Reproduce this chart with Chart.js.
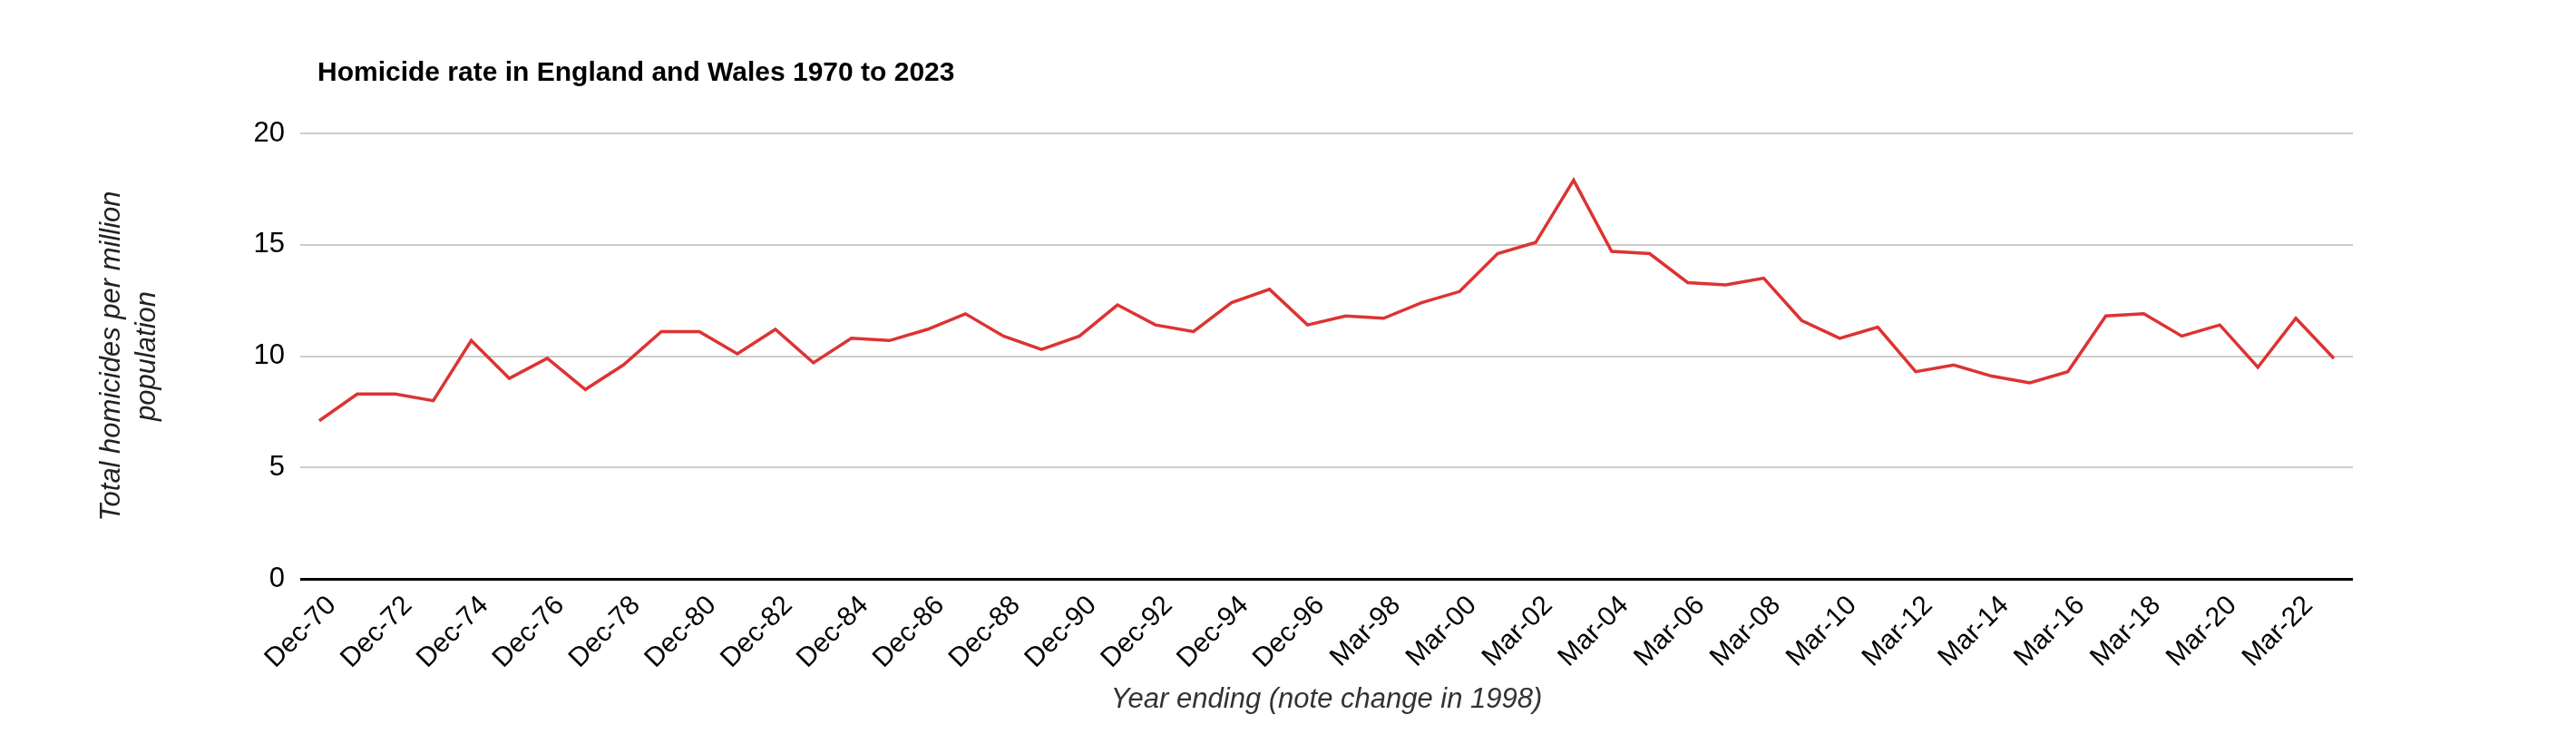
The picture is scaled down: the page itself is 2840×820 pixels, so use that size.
<!DOCTYPE html>
<html>
<head>
<meta charset="utf-8">
<title>Homicide rate in England and Wales 1970 to 2023</title>
<script src="https://cdn.jsdelivr.net/npm/chart.js@4.4.1/dist/chart.umd.min.js"></script>
<style>
  html, body { margin: 0; padding: 0; background: #fff; }
  #wrap { width: 2840px; height: 820px; position: relative; }
</style>
</head>
<body>
<div id="wrap"><canvas id="homicideChart"></canvas></div>
<script>
// Calendar years up to 1997, then financial years ending in March
const years = [
    'Dec-70', 'Dec-71', 'Dec-72', 'Dec-73', 'Dec-74', 'Dec-75', 'Dec-76', 'Dec-77', 'Dec-78', 'Dec-79',
    'Dec-80', 'Dec-81', 'Dec-82', 'Dec-83', 'Dec-84', 'Dec-85', 'Dec-86', 'Dec-87', 'Dec-88', 'Dec-89',
    'Dec-90', 'Dec-91', 'Dec-92', 'Dec-93', 'Dec-94', 'Dec-95', 'Dec-96', 'Dec-97',
    'Mar-98', 'Mar-99', 'Mar-00', 'Mar-01', 'Mar-02', 'Mar-03', 'Mar-04', 'Mar-05', 'Mar-06', 'Mar-07',
    'Mar-08', 'Mar-09', 'Mar-10', 'Mar-11', 'Mar-12', 'Mar-13', 'Mar-14', 'Mar-15', 'Mar-16', 'Mar-17',
    'Mar-18', 'Mar-19', 'Mar-20', 'Mar-21', 'Mar-22', 'Mar-23'
];

// Total homicides per million population
const homicideRate = [
    7.1, 8.3, 8.3, 8.0, 10.7, 9.0, 9.9, 8.5, 9.6, 11.1,
    11.1, 10.1, 11.2, 9.7, 10.8, 10.7, 11.2, 11.9, 10.9, 10.3,
    10.9, 12.3, 11.4, 11.1, 12.4, 13.0, 11.4, 11.8,
    11.7, 12.4, 12.9, 14.6, 15.1, 17.9, 14.7, 14.6, 13.3, 13.2,
    13.5, 11.6, 10.8, 11.3, 9.3, 9.6, 9.1, 8.8, 9.3, 11.8,
    11.9, 10.9, 11.4, 9.5, 11.7, 9.9
];

const yTicks = [0, 5, 10, 15, 20];

const chartTitle = 'Homicide rate in England and Wales 1970 to 2023';
const xTitle = 'Year ending (note change in 1998)';
const yTitle = ['Total homicides per million', 'population'];

const FONT = '"Liberation Sans", Arial, Helvetica, sans-serif';

// Title sits just right of the plot's left edge, like the original
const titlePlugin = {
    id: 'leftTitle',
    afterDraw(chart) {
        const ctx = chart.ctx;
        ctx.save();
        ctx.font = 'bold 30px ' + FONT;
        ctx.fillStyle = '#000';
        ctx.textBaseline = 'middle';
        ctx.textAlign = 'left';
        ctx.fillText(chartTitle, chart.chartArea.left + 19, 81);
        ctx.restore();
    }
};

document.addEventListener('DOMContentLoaded', function() {
    const canvas = document.getElementById('homicideChart');

    new Chart(canvas, {
        type: 'line',
        data: {
            labels: years,
            datasets: [{
                label: 'Homicide rate',
                data: homicideRate,
                borderColor: '#dd3333',
                borderWidth: 3.5,
                pointRadius: 0,
                tension: 0,
                fill: false
            }]
        },
        options: {
            responsive: true,
            maintainAspectRatio: false,
            devicePixelRatio: 1,
            animation: false,
            events: [],
            layout: {
                padding: { top: 147, right: 246, bottom: 0, left: 0 }
            },
            plugins: {
                legend: { display: false },
                tooltip: { enabled: false },
                title: { display: false }
            },
            scales: {
                x: {
                    type: 'category',
                    offset: true,
                    grid: { display: false, drawTicks: false },
                    border: { display: false },
                    ticks: {
                        autoSkip: false,
                        maxRotation: 45,
                        minRotation: 45,
                        padding: 12,
                        labelOffset: 14,
                        color: '#000',
                        font: { family: FONT, size: 30 },
                        callback: function(value, index) {
                            return index % 2 === 0 ? years[index] : '';
                        }
                    },
                    title: {
                        display: true,
                        text: xTitle,
                        color: '#333',
                        font: { family: FONT, size: 31, style: 'italic' },
                        padding: { top: 0, bottom: 30 }
                    },
                    afterFit: function(scale) {
                        scale.height = 182;
                        scale.paddingLeft = 0;
                        scale.paddingRight = 0;
                    }
                },
                y: {
                    min: 0,
                    max: 20,
                    afterBuildTicks: function(scale) {
                        scale.ticks = yTicks.map(v => ({ value: v }));
                    },
                    grid: {
                        drawTicks: false,
                        color: ctx => (ctx.tick && ctx.tick.value === 0 ? '#000' : '#cccccc'),
                        lineWidth: ctx => (ctx.tick && ctx.tick.value === 0 ? 3 : 2)
                    },
                    border: { display: false },
                    ticks: {
                        padding: 17,
                        color: '#000',
                        font: { family: FONT, size: 31 }
                    },
                    title: {
                        display: true,
                        text: yTitle,
                        color: '#222',
                        font: { family: FONT, size: 31, style: 'italic', lineHeight: 1.25 },
                        padding: { top: 104, bottom: 0 }
                    },
                    afterFit: function(scale) {
                        scale.width = 331;
                        scale.paddingTop = 0;
                        scale.paddingBottom = 0;
                    }
                }
            }
        },
        plugins: [titlePlugin]
    });
});
</script>
</body>
</html>
